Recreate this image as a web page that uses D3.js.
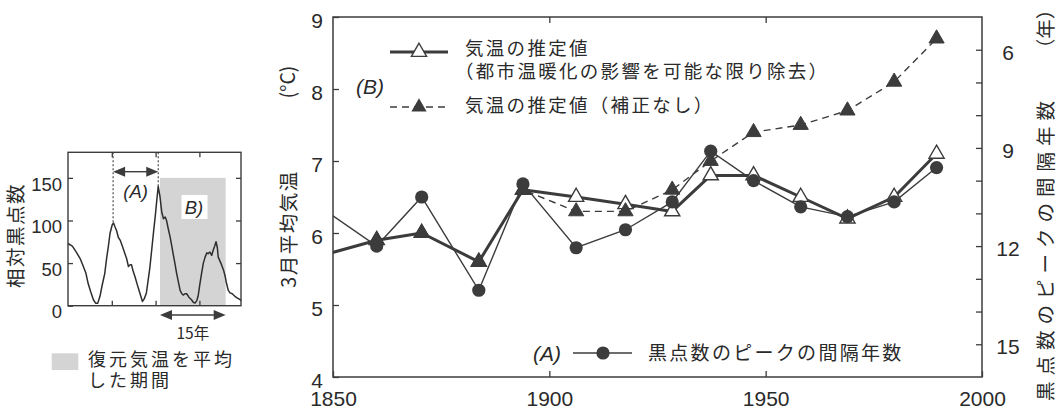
<!DOCTYPE html>
<html><head><meta charset="utf-8">
<script src="https://cdn.jsdelivr.net/npm/d3@7"></script>
<style>
html,body{margin:0;padding:0;background:#fff;}
svg{display:block;}
text{font-family:"Liberation Sans","Noto Sans CJK JP",sans-serif;fill:#2a2a2a;}
.jp{font-family:"Noto Sans CJK JP","Liberation Sans",sans-serif;}
</style></head>
<body>
<svg id="c" width="1059" height="411"></svg>
<script>
// ---- Main chart data ----
const peakYears = [1848.1, 1860.1, 1870.5, 1883.7, 1893.9, 1906.2, 1917.6, 1928.4, 1937.3, 1947.2, 1958.1, 1968.9, 1979.7, 1989.5];
const tempCorrected = [5.7, 5.9, 6.0, 5.6, 6.6, 6.5, 6.4, 6.3, 6.8, 6.8, 6.5, 6.2, 6.5, 7.1];
const tempUncorrected = [5.7, 5.9, 6.0, 5.6, 6.6, 6.3, 6.3, 6.6, 7.0, 7.4, 7.5, 7.7, 8.1, 8.7];
const cycleInterval = [10.9, 12.0, 10.5, 13.35, 10.1, 12.05, 11.5, 10.65, 9.1, 10.0, 10.8, 11.1, 10.65, 9.6];
const xTicks = [1850, 1900, 1950, 2000];
const yTicksLeft = [4, 5, 6, 7, 8, 9];
const yTicksRight = [6, 9, 12, 15];
const yMinorRight = [6, 7, 8, 9, 10, 11, 12, 13, 14, 15];

// ---- Inset (relative sunspot number) data ----
const ssYear = [0,1,2,2.8,3.5,4.1,4.6,5.2,5.8,6.3,6.8,7.3,7.8,8.4,8.8,9.2,9.6,10.1,10.4,10.7,11.1,11.5,11.9,12.4,13.0,13.4,13.8,14.2,14.5,14.9,15.3,15.8,16.4,17.0,17.4,17.9,18.3,18.7,19.1,19.5,19.9,20.3,20.6,21.0,21.4,21.8,22.2,22.5,22.9,23.3,23.7,24.0,24.4,24.8,25.2,25.6,26.0,26.3,26.7,27.1,27.6,28.2,28.6,29.0,29.4,29.7,30.1,30.5,30.9,31.3,31.7,32.0,32.4,32.8,33.2,33.5,33.8,34.1,34.3,34.9,35.5,35.9,36.2,36.6,37.0,37.5,38.1,38.7,39.3,39.5];
const ssValue = [73,70,62,55,46,38,26,16,7,3,3,11,24,38,55,69,85,95,97,93,88,80,77,70,61,55,46,48,48,40,34,25,15,5,8,15,30,45,65,85,104,125,140,128,110,102,104,100,90,81,70,61,50,38,28,18,14,12.5,14,14,10,7,4,3,6,11,25,38,50,57,62,61,63,59,66,70,75,68,57,50,42,34,26,18,15,14,11,9,7,6];
const ssTicksY = [0, 50, 100, 150];
const ssTicksX = [10, 20, 30];
const peakA = [10.3, 20.6];
const peakAVal = [97, 140];
const periodB = [21, 36];
const periodBTop = 150;

const svg = d3.select("#c");
const ink = "#3c3c3c";

// ================= MAIN CHART =================
const x = d3.scaleLinear().domain([1850, 2000]).range([333, 982]);
const yL = d3.scaleLinear().domain([4, 9]).range([377, 17]);
const yR = d3.scaleLinear().domain([5, 16]).range([17, 377]);

svg.append("defs").append("clipPath").attr("id", "clipMain")
  .append("rect").attr("x", 333).attr("y", 17).attr("width", 649).attr("height", 360);

svg.append("rect").attr("x", 333).attr("y", 17).attr("width", 649).attr("height", 360)
  .attr("fill", "none").attr("stroke", ink).attr("stroke-width", 1.5);

const axB = svg.append("g").attr("transform", "translate(0,377)")
  .call(d3.axisBottom(x).tickValues(xTicks).tickSizeInner(-6).tickSizeOuter(0).tickPadding(14).tickFormat(d3.format("d")));
const axT = svg.append("g").attr("transform", "translate(0,17)")
  .call(d3.axisTop(x).tickValues(xTicks.slice(1, 3)).tickSizeInner(-6).tickSizeOuter(0).tickFormat(""));
const axL = svg.append("g").attr("transform", "translate(333,0)")
  .call(d3.axisLeft(yL).tickValues(yTicksLeft).tickSizeInner(-6).tickSizeOuter(0).tickPadding(10).tickFormat(d3.format("d")));
const axR = svg.append("g").attr("transform", "translate(982,0)")
  .call(d3.axisRight(yR).tickValues(yMinorRight).tickSizeInner(-6).tickSizeOuter(0).tickPadding(18)
    .tickFormat(d => yTicksRight.includes(d) ? d : ""));
[axB, axT, axL, axR].forEach(a => {
  a.select(".domain").remove();
  a.selectAll(".tick line").attr("stroke", ink).attr("stroke-width", 1.3);
  a.selectAll(".tick text").attr("fill", "#2a2a2a").style("font-family", "Liberation Sans").attr("font-size", 21);
});
axB.selectAll(".tick text").attr("dy", "0.71em").attr("y", 14);
axL.selectAll(".tick text").attr("dy", "0.5em");
axR.selectAll(".tick text").attr("text-anchor", "middle").attr("x", 26).attr("dy", "0.45em");

// axis titles
svg.append("text").attr("class", "jp").attr("transform", "translate(296,229) rotate(-90)")
  .attr("text-anchor", "middle").attr("font-size", 19.5).attr("letter-spacing", 1.5).text("3月平均気温");
svg.append("text").attr("class", "jp").attr("transform", "translate(295,82) rotate(-90)")
  .attr("text-anchor", "middle").attr("font-size", 19.5).text("(°C)");
svg.append("text").attr("class", "jp").attr("transform", "translate(1053,248) rotate(-90)")
  .attr("text-anchor", "middle").attr("font-size", 19.5).attr("letter-spacing", 6).text("黒点数のピークの間隔年数");
svg.append("text").attr("class", "jp").attr("transform", "translate(1053,29) rotate(-90)")
  .attr("text-anchor", "middle").attr("font-size", 19.5).text("（年）");

const rows = peakYears.map((yr, i) => ({yr, tc: tempCorrected[i], tu: tempUncorrected[i], ci: cycleInterval[i]}));
const plot = svg.append("g").attr("clip-path", "url(#clipMain)");

const lineTC = d3.line().x(d => x(d.yr)).y(d => yL(d.tc));
const lineTU = d3.line().x(d => x(d.yr)).y(d => yL(d.tu));
const lineCI = d3.line().x(d => x(d.yr)).y(d => yR(d.ci));

plot.append("path").datum(rows).attr("d", lineTC).attr("fill", "none").attr("stroke", ink).attr("stroke-width", 3).attr("stroke-linejoin", "round");
plot.append("path").datum(rows).attr("d", lineTU).attr("fill", "none").attr("stroke", ink).attr("stroke-width", 1.4).attr("stroke-dasharray", "7,5");
plot.append("path").datum(rows).attr("d", lineCI).attr("fill", "none").attr("stroke", ink).attr("stroke-width", 1.4);

const tri = d3.symbol().type(d3.symbolTriangle).size(100);
plot.selectAll(".ot").data(rows).join("path").attr("class", "ot")
  .attr("transform", d => `translate(${x(d.yr)},${yL(d.tc)})`).attr("d", tri)
  .attr("fill", "#fff").attr("stroke", ink).attr("stroke-width", 1.4);
plot.selectAll(".ft").data(rows).join("path").attr("class", "ft")
  .attr("transform", d => `translate(${x(d.yr)},${yL(d.tu)})`).attr("d", tri)
  .attr("fill", ink).attr("stroke", ink).attr("stroke-width", 1);
plot.selectAll(".ci").data(rows).join("circle").attr("class", "ci")
  .attr("cx", d => x(d.yr)).attr("cy", d => yR(d.ci)).attr("r", 6.6).attr("fill", ink);

// legend
const lg = svg.append("g");
lg.append("line").attr("x1", 390).attr("x2", 448).attr("y1", 52).attr("y2", 52).attr("stroke", ink).attr("stroke-width", 3);
lg.append("path").attr("transform", "translate(419,52)").attr("d", tri).attr("fill", "#fff").attr("stroke", ink).attr("stroke-width", 1.4);
lg.append("text").attr("class", "jp").attr("x", 465).attr("y", 55).attr("font-size", 18.5).attr("letter-spacing", 2.3).text("気温の推定値");
lg.append("text").attr("class", "jp").attr("x", 455).attr("y", 78).attr("font-size", 18.5).attr("letter-spacing", 2.3).text("（都市温暖化の影響を可能な限り除去）");
lg.append("text").attr("x", 356).attr("y", 94).attr("font-size", 21).attr("font-style", "italic").text("(B)");
lg.append("line").attr("x1", 390).attr("x2", 448).attr("y1", 107).attr("y2", 107).attr("stroke", ink).attr("stroke-width", 1.4).attr("stroke-dasharray", "7,5");
lg.append("path").attr("transform", "translate(419,107)").attr("d", tri).attr("fill", ink);
lg.append("text").attr("class", "jp").attr("x", 465).attr("y", 112).attr("font-size", 18.5).attr("letter-spacing", 2.3).text("気温の推定値（補正なし）");

lg.append("text").attr("x", 533).attr("y", 361).attr("font-size", 21).attr("font-style", "italic").text("(A)");
lg.append("line").attr("x1", 573).attr("x2", 632).attr("y1", 353).attr("y2", 353).attr("stroke", ink).attr("stroke-width", 1.4);
lg.append("circle").attr("cx", 603).attr("cy", 353).attr("r", 6.6).attr("fill", ink);
lg.append("text").attr("class", "jp").attr("x", 648).attr("y", 360).attr("font-size", 19).attr("letter-spacing", 2.3).text("黒点数のピークの間隔年数");

// ================= INSET =================
const sx = d3.scaleLinear().domain([0, 39.5]).range([68, 241]);
const sy = d3.scaleLinear().domain([0, 180]).range([305.7, 152.3]);
const ins = svg.append("g");

ins.append("rect").attr("x", sx(periodB[0])).attr("y", sy(periodBTop))
  .attr("width", sx(periodB[1]) - sx(periodB[0])).attr("height", sy(0) - sy(periodBTop)).attr("fill", "#d4d4d4");
ins.append("rect").attr("x", 181.5).attr("y", 195).attr("width", 26).attr("height", 24).attr("fill", "#fff");
ins.append("text").attr("x", 194).attr("y", 214).attr("text-anchor", "middle").attr("font-size", 18.5).attr("font-style", "italic").text("B)");

ins.append("rect").attr("x", 68).attr("y", 152.3).attr("width", 173).attr("height", 153.4)
  .attr("fill", "none").attr("stroke", ink).attr("stroke-width", 1.4);

const sL = ins.append("g").attr("transform", "translate(68,0)")
  .call(d3.axisLeft(sy).tickValues(ssTicksY).tickSizeInner(-5).tickSizeOuter(0).tickPadding(6));
const sR = ins.append("g").attr("transform", "translate(241,0)")
  .call(d3.axisRight(sy).tickValues(ssTicksY.slice(1)).tickSizeInner(-5).tickSizeOuter(0).tickFormat(""));
const sB = ins.append("g").attr("transform", "translate(0,305.7)")
  .call(d3.axisBottom(sx).tickValues(ssTicksX).tickSizeInner(-5).tickSizeOuter(0).tickFormat(""));
const sT = ins.append("g").attr("transform", "translate(0,152.3)")
  .call(d3.axisTop(sx).tickValues(ssTicksX).tickSizeInner(-5).tickSizeOuter(0).tickFormat(""));
[sL, sR, sB, sT].forEach(a => {
  a.select(".domain").remove();
  a.selectAll(".tick line").attr("stroke", ink).attr("stroke-width", 1.3);
  a.selectAll(".tick text").attr("fill", "#2a2a2a").style("font-family", "Liberation Sans").attr("font-size", 18.5).attr("dy", "0.66em");
});

peakA.forEach((p, i) => {
  ins.append("line").attr("x1", sx(p)).attr("x2", sx(p)).attr("y1", 152.3).attr("y2", sy(peakAVal[i]))
    .attr("stroke", ink).attr("stroke-width", 1.1).attr("stroke-dasharray", "2,2");
});

const ssData = ssYear.map((yv, i) => [yv, ssValue[i]]);
ins.append("path").datum(ssData).attr("d", d3.line().x(d => sx(d[0])).y(d => sy(d[1])))
  .attr("fill", "none").attr("stroke", "#2e2e2e").attr("stroke-width", 1.5).attr("stroke-linejoin", "round");

function dblArrow(x1, x2, y) {
  ins.append("line").attr("x1", x1 + 8).attr("x2", x2 - 8).attr("y1", y).attr("y2", y).attr("stroke", ink).attr("stroke-width", 1.4);
  ins.append("path").attr("d", `M${x1},${y} L${x1 + 12},${y - 5} L${x1 + 12},${y + 5} Z`).attr("fill", ink);
  ins.append("path").attr("d", `M${x2},${y} L${x2 - 12},${y - 5} L${x2 - 12},${y + 5} Z`).attr("fill", ink);
}
dblArrow(sx(peakA[0]), sx(peakA[1]), 171.7);
ins.append("text").attr("x", (sx(peakA[0]) + sx(peakA[1])) / 2).attr("y", 198).attr("text-anchor", "middle")
  .attr("font-size", 18.5).attr("font-style", "italic").text("(A)");
dblArrow(sx(periodB[0]), sx(periodB[1]), 315);
ins.append("text").attr("class", "jp").attr("x", (sx(periodB[0]) + sx(periodB[1])) / 2).attr("y", 339)
  .attr("text-anchor", "middle").attr("font-size", 15.5).text("15年");

ins.append("text").attr("class", "jp").attr("transform", "translate(23,235.5) rotate(-90)")
  .attr("text-anchor", "middle").attr("font-size", 19.5).attr("letter-spacing", 1.5).text("相対黒点数");

ins.append("rect").attr("x", 51.7).attr("y", 353.3).attr("width", 26.6).attr("height", 16.7).attr("fill", "#d4d4d4");
ins.append("text").attr("class", "jp").attr("x", 88).attr("y", 366).attr("font-size", 18).attr("letter-spacing", 3).text("復元気温を平均");
ins.append("text").attr("class", "jp").attr("x", 88).attr("y", 387).attr("font-size", 18).attr("letter-spacing", 3).text("した期間");
</script>
</body></html>
